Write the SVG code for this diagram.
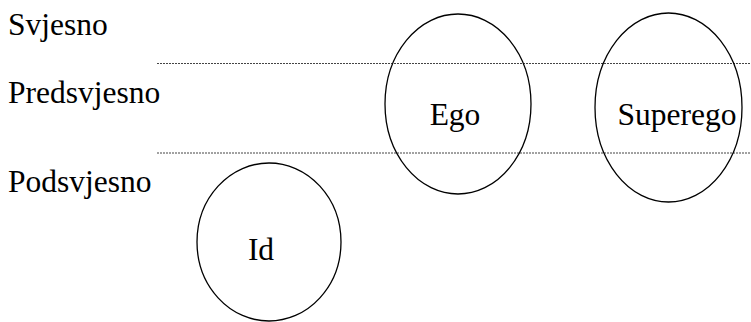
<svg xmlns="http://www.w3.org/2000/svg" width="751" height="322" viewBox="0 0 751 322">
<style>
text{font-family:'Liberation Serif','Times New Roman','DejaVu Serif',serif;font-size:31.5px;fill:#000}
.n{fill:none;stroke:#000;stroke-width:1.3}
.d{stroke:#444;stroke-width:1;stroke-dasharray:2 1}
</style>
<rect width="751" height="322" fill="#fff"/>
<g id="labels" font-family="Liberation Serif, DejaVu Serif, serif">
<text x="8" y="35">Svjesno</text>
<text x="8" y="103">Predsvjesno</text>
<text x="8" y="192">Podsvjesno</text>
</g>
<g id="connectors">
<line class="d" x1="157" y1="63.5" x2="751" y2="63.5"/>
<line class="d" x1="157" y1="153" x2="751" y2="153"/>
</g>
<g id="ego">
<ellipse class="n" cx="458" cy="104" rx="73" ry="90"/>
<text x="455" y="125" text-anchor="middle">Ego</text>
</g>
<g id="superego">
<ellipse class="n" cx="668.5" cy="107.5" rx="73.5" ry="94.5"/>
<text x="677" y="125" text-anchor="middle">Superego</text>
</g>
<g id="id">
<ellipse class="n" cx="269" cy="242" rx="72" ry="79"/>
<text x="261" y="260" text-anchor="middle">Id</text>
</g>
</svg>
